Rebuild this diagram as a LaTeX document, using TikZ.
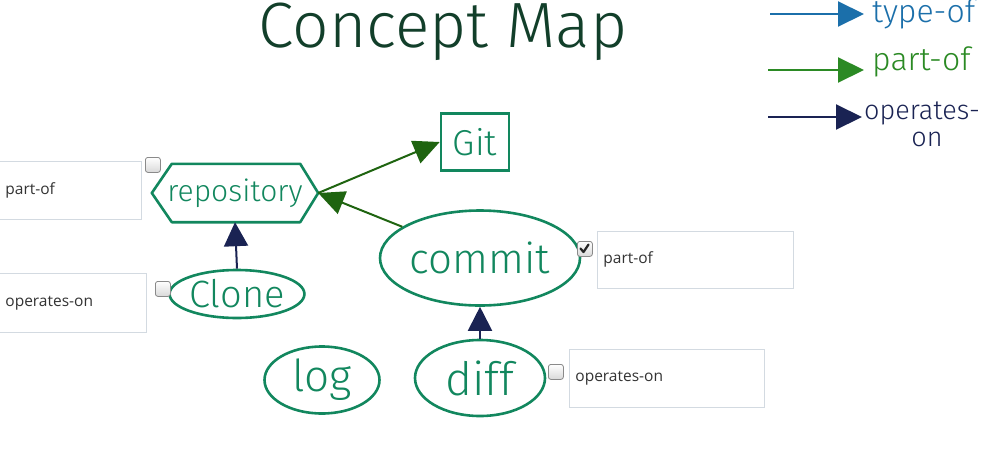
\documentclass[tikz,border=0pt]{standalone}
\usepackage{fontspec}
\setmainfont{Open Sans}
\newfontfamily\hand{Fira Sans Light}
\usetikzlibrary{shapes.geometric,arrows.meta}
\definecolor{nodecol}{HTML}{12875E}
\definecolor{titlecol}{HTML}{123F2A}
\definecolor{legblue}{HTML}{1B6FAA}
\definecolor{leggreen}{HTML}{2B8A24}
\definecolor{navycol}{HTML}{1A2353}
\definecolor{partofcol}{HTML}{1F6410}
\definecolor{boxborder}{HTML}{D3DAE1}
\definecolor{boxtext}{HTML}{333333}
\definecolor{chkborder}{HTML}{8A8A8A}
\tikzset{
  x=1pt, y=-1pt,
  concept/.style={draw=nodecol, line width=2.6pt, ellipse, inner sep=0pt, text=nodecol},
  field/.style={draw=boxborder, line width=0.8pt, fill=white, anchor=north west, inner xsep=5pt,
     align=left, text=boxtext, font=\fontsize{15.5}{17}\selectfont},
  chk/.style={draw=chkborder, line width=0.8pt, rounded corners=2.5pt, minimum width=15pt,
     minimum height=15pt, inner sep=0pt, top color=white, bottom color=black!15, anchor=north west},
  partarrow/.style={draw=partofcol, line width=2pt, -{Triangle[length=26pt,width=24pt]}},
  oparrow/.style={draw=navycol, line width=2pt, -{Triangle[length=24pt,width=24pt]}},
  legarrow/.style={line width=2pt, -{Triangle[length=26pt,width=25pt]}},
}
\begin{document}
\begin{tikzpicture}
\useasboundingbox (0,0) rectangle (981,453);
% title
\node[text=titlecol, font=\hand\fontsize{64}{66}\selectfont] (title) at (443,32) {Concept Map};
% legend
\coordinate (lg1) at (770,14);
\coordinate (lg2) at (768,70);
\coordinate (lg3) at (768,117);
\node[anchor=west, text=legblue, font=\hand\fontsize{32}{34}\selectfont, inner sep=0pt] (lt1) at (872,14) {type-of};
\node[anchor=west, text=leggreen, font=\hand\fontsize{32}{34}\selectfont, inner sep=0pt] (lt2) at (872,62) {part-of};
\node[anchor=base west, text=navycol, font=\hand\fontsize{27}{29}\selectfont, inner sep=0pt] (lt3) at (864,119) {operates-};
\node[anchor=base, text=navycol, font=\hand\fontsize{27}{29}\selectfont, inner sep=0pt] (lt4) at (927,146) {on};
\draw[legarrow, draw=legblue, fill=legblue] (lg1) -- (864,14);
\draw[legarrow, draw=leggreen, fill=leggreen] (lg2) -- (864,70);
\draw[legarrow, draw=navycol, fill=navycol] (lg3) -- (862,117);
% concept nodes
\node[minimum width=166pt, minimum height=58pt, inner sep=0pt, text=nodecol,
      font=\hand\fontsize{30}{32}\selectfont] (repo) at (235,193) {repository};
\draw[draw=nodecol, line width=2.6pt, line join=round]
  (repo.west) -- ([xshift=20pt]repo.north west) -- ([xshift=-18pt]repo.north east)
  -- (repo.east) -- ([xshift=-18pt]repo.south east) -- ([xshift=20pt]repo.south west) -- cycle;
\node[draw=nodecol, line width=2.6pt, minimum width=68pt, minimum height=57pt, inner sep=0pt,
      text=nodecol, font=\hand\fontsize{36}{38}\selectfont] (git) at (475,142) {Git};
\node[concept, minimum width=200pt, minimum height=95pt, font=\hand\fontsize{42}{44}\selectfont] (commit) at (480,258) {commit};
\node[concept, minimum width=131pt, minimum height=48pt, font=\hand\fontsize{38}{40}\selectfont] (clone) at (237,294) {Clone};
\node[concept, minimum width=115pt, minimum height=67pt, font=\hand\fontsize{44}{46}\selectfont] (log) at (322,380) {log};
\node[concept, minimum width=130pt, minimum height=76pt, font=\hand\fontsize{46}{48}\selectfont] (diff) at (480,378) {diff};
% connectors
\draw[partarrow, fill=partofcol] (repo.east) -- (git.west);
\draw[partarrow, fill=partofcol] (commit) -- (repo.east) ;
\draw[oparrow, fill=navycol] (clone.north) -- (repo.south);
\draw[oparrow, fill=navycol] (diff.north) -- (commit.south);
% fields and checkboxes
\node[field, minimum width=142pt, minimum height=58pt, text width=130pt] (f1) at (-1,161) {part-of};
\node[chk] (c1) at (145,157) {};
\node[field, minimum width=147pt, minimum height=59pt, text width=135pt] (f2) at (-1,273) {operates-on};
\node[chk] (c2) at (155,281) {};
\node[chk] (c3) at (577,241) {};
\draw[black!85, line width=2.2pt, line cap=round, line join=round]
  ([shift={(3.5pt,-7.5pt)}]c3.north west) -- ([shift={(6.5pt,-11pt)}]c3.north west) -- ([shift={(11.5pt,-3.5pt)}]c3.north west);
\node[field, minimum width=196pt, minimum height=57pt, text width=184pt] (f3) at (597,231) {part-of};
\node[chk] (c4) at (548,364) {};
\node[field, minimum width=195pt, minimum height=58pt, text width=183pt] (f4) at (569,349) {operates-on};
\end{tikzpicture}
\end{document}
